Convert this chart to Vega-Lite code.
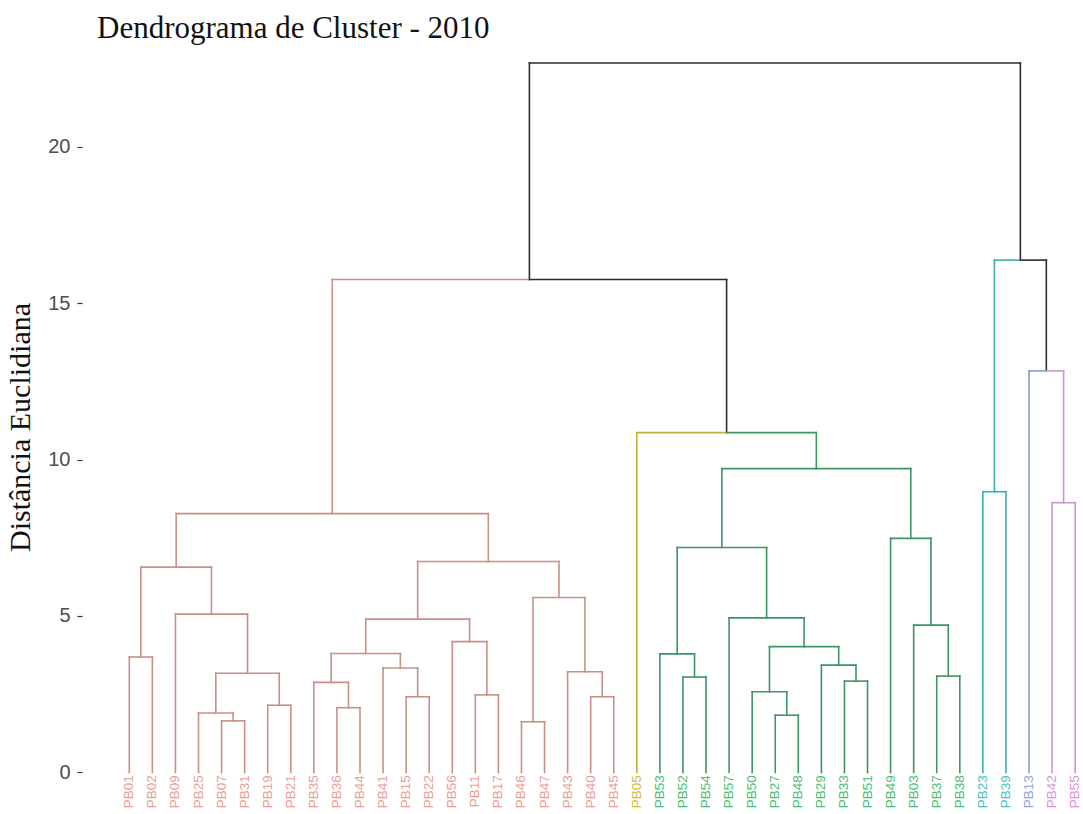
{
  "$schema": "https://vega.github.io/schema/vega-lite/v6.json",
  "width": 1001,
  "height": 768,
  "autosize": {"type": "none"},
  "padding": {"left": 82, "top": 46, "right": 0, "bottom": 0},
  "background": "white",
  "config": {
    "view": {"stroke": null},
    "axisY": {
      "grid": false,
      "domain": false,
      "ticks": true,
      "tickSize": 5,
      "tickWidth": 1.2,
      "tickColor": "#333333",
      "labelFont": "Liberation Sans",
      "labelFontSize": 20,
      "labelColor": "#4D4D4D",
      "labelPadding": 7,
      "titleFont": "Liberation Serif",
      "titleFontSize": 30,
      "titleFontWeight": "normal",
      "titleColor": "#111111",
      "titleAngle": 270,
      "titleAlign": "center",
      "titleBaseline": "alphabetic",
      "titleX": -53,
      "titleY": 381
    }
  },
  "title": {
    "text": "Dendrograma de Cluster - 2010",
    "anchor": "start",
    "frame": "group",
    "font": "Liberation Serif",
    "fontSize": 31,
    "fontWeight": "normal",
    "color": "#111111",
    "offset": 4,
    "dx": 15,
    "dy": 3
  },
  "datasets": {
    "leaves": [
      {"id": "PB01", "i": 0, "h": 3.69, "g": "1"},
      {"id": "PB02", "i": 1, "h": 3.69, "g": "1"},
      {"id": "PB09", "i": 2, "h": 5.06, "g": "1"},
      {"id": "PB25", "i": 3, "h": 1.90, "g": "1"},
      {"id": "PB07", "i": 4, "h": 1.65, "g": "1"},
      {"id": "PB31", "i": 5, "h": 1.65, "g": "1"},
      {"id": "PB19", "i": 6, "h": 2.15, "g": "1"},
      {"id": "PB21", "i": 7, "h": 2.15, "g": "1"},
      {"id": "PB35", "i": 8, "h": 2.88, "g": "1"},
      {"id": "PB36", "i": 9, "h": 2.07, "g": "1"},
      {"id": "PB44", "i": 10, "h": 2.07, "g": "1"},
      {"id": "PB41", "i": 11, "h": 3.34, "g": "1"},
      {"id": "PB15", "i": 12, "h": 2.42, "g": "1"},
      {"id": "PB22", "i": 13, "h": 2.42, "g": "1"},
      {"id": "PB56", "i": 14, "h": 4.18, "g": "1"},
      {"id": "PB11", "i": 15, "h": 2.48, "g": "1"},
      {"id": "PB17", "i": 16, "h": 2.48, "g": "1"},
      {"id": "PB46", "i": 17, "h": 1.62, "g": "1"},
      {"id": "PB47", "i": 18, "h": 1.62, "g": "1"},
      {"id": "PB43", "i": 19, "h": 3.22, "g": "1"},
      {"id": "PB40", "i": 20, "h": 2.42, "g": "1"},
      {"id": "PB45", "i": 21, "h": 2.42, "g": "1"},
      {"id": "PB05", "i": 22, "h": 10.86, "g": "2"},
      {"id": "PB53", "i": 23, "h": 3.79, "g": "3"},
      {"id": "PB52", "i": 24, "h": 3.05, "g": "3"},
      {"id": "PB54", "i": 25, "h": 3.05, "g": "3"},
      {"id": "PB57", "i": 26, "h": 4.94, "g": "3"},
      {"id": "PB50", "i": 27, "h": 2.58, "g": "3"},
      {"id": "PB27", "i": 28, "h": 1.83, "g": "3"},
      {"id": "PB48", "i": 29, "h": 1.83, "g": "3"},
      {"id": "PB29", "i": 30, "h": 3.43, "g": "3"},
      {"id": "PB33", "i": 31, "h": 2.92, "g": "3"},
      {"id": "PB51", "i": 32, "h": 2.92, "g": "3"},
      {"id": "PB49", "i": 33, "h": 7.48, "g": "3"},
      {"id": "PB03", "i": 34, "h": 4.71, "g": "3"},
      {"id": "PB37", "i": 35, "h": 3.08, "g": "3"},
      {"id": "PB38", "i": 36, "h": 3.08, "g": "3"},
      {"id": "PB23", "i": 37, "h": 8.97, "g": "4"},
      {"id": "PB39", "i": 38, "h": 8.97, "g": "4"},
      {"id": "PB13", "i": 39, "h": 12.83, "g": "5"},
      {"id": "PB42", "i": 40, "h": 8.62, "g": "6"},
      {"id": "PB55", "i": 41, "h": 8.62, "g": "6"}
    ],
    "branches": [
      {"x": 4.5, "x2": 4.5, "y": 1.65, "y2": 1.90, "g": "1"},
      {"x": 3.75, "x2": 3.75, "y": 1.90, "y2": 3.17, "g": "1"},
      {"x": 6.5, "x2": 6.5, "y": 2.15, "y2": 3.17, "g": "1"},
      {"x": 5.125, "x2": 5.125, "y": 3.17, "y2": 5.06, "g": "1"},
      {"x": 3.5625, "x2": 3.5625, "y": 5.06, "y2": 6.56, "g": "1"},
      {"x": 0.5, "x2": 0.5, "y": 3.69, "y2": 6.56, "g": "1"},
      {"x": 2.03125, "x2": 2.03125, "y": 6.56, "y2": 8.27, "g": "1"},
      {"x": 9.5, "x2": 9.5, "y": 2.07, "y2": 2.88, "g": "1"},
      {"x": 8.75, "x2": 8.75, "y": 2.88, "y2": 3.80, "g": "1"},
      {"x": 12.5, "x2": 12.5, "y": 2.42, "y2": 3.34, "g": "1"},
      {"x": 11.75, "x2": 11.75, "y": 3.34, "y2": 3.80, "g": "1"},
      {"x": 10.25, "x2": 10.25, "y": 3.80, "y2": 4.90, "g": "1"},
      {"x": 15.5, "x2": 15.5, "y": 2.48, "y2": 4.18, "g": "1"},
      {"x": 14.75, "x2": 14.75, "y": 4.18, "y2": 4.90, "g": "1"},
      {"x": 12.5, "x2": 12.5, "y": 4.90, "y2": 6.74, "g": "1"},
      {"x": 17.5, "x2": 17.5, "y": 1.62, "y2": 5.59, "g": "1"},
      {"x": 20.5, "x2": 20.5, "y": 2.42, "y2": 3.22, "g": "1"},
      {"x": 19.75, "x2": 19.75, "y": 3.22, "y2": 5.59, "g": "1"},
      {"x": 18.625, "x2": 18.625, "y": 5.59, "y2": 6.74, "g": "1"},
      {"x": 15.5625, "x2": 15.5625, "y": 6.74, "y2": 8.27, "g": "1"},
      {"x": 8.796875, "x2": 8.796875, "y": 8.27, "y2": 15.75, "g": "1"},
      {"x": 24.5, "x2": 24.5, "y": 3.05, "y2": 3.79, "g": "3"},
      {"x": 23.75, "x2": 23.75, "y": 3.79, "y2": 7.19, "g": "3"},
      {"x": 28.5, "x2": 28.5, "y": 1.83, "y2": 2.58, "g": "3"},
      {"x": 27.75, "x2": 27.75, "y": 2.58, "y2": 4.02, "g": "3"},
      {"x": 31.5, "x2": 31.5, "y": 2.92, "y2": 3.43, "g": "3"},
      {"x": 30.75, "x2": 30.75, "y": 3.43, "y2": 4.02, "g": "3"},
      {"x": 29.25, "x2": 29.25, "y": 4.02, "y2": 4.94, "g": "3"},
      {"x": 27.625, "x2": 27.625, "y": 4.94, "y2": 7.19, "g": "3"},
      {"x": 25.6875, "x2": 25.6875, "y": 7.19, "y2": 9.71, "g": "3"},
      {"x": 35.5, "x2": 35.5, "y": 3.08, "y2": 4.71, "g": "3"},
      {"x": 34.75, "x2": 34.75, "y": 4.71, "y2": 7.48, "g": "3"},
      {"x": 33.875, "x2": 33.875, "y": 7.48, "y2": 9.71, "g": "3"},
      {"x": 29.78125, "x2": 29.78125, "y": 9.71, "y2": 10.86, "g": "3"},
      {"x": 25.890625, "x2": 25.890625, "y": 10.86, "y2": 15.75, "g": "0"},
      {"x": 17.34375, "x2": 17.34375, "y": 15.75, "y2": 22.67, "g": "0"},
      {"x": 37.5, "x2": 37.5, "y": 8.97, "y2": 16.37, "g": "4"},
      {"x": 40.5, "x2": 40.5, "y": 8.62, "y2": 12.83, "g": "6"},
      {"x": 39.75, "x2": 39.75, "y": 12.83, "y2": 16.37, "g": "0"},
      {"x": 38.625, "x2": 38.625, "y": 16.37, "y2": 22.67, "g": "0"},

      {"x": 4, "x2": 5, "y": 1.65, "y2": 1.65, "g": "1"},
      {"x": 3, "x2": 4.5, "y": 1.90, "y2": 1.90, "g": "1"},
      {"x": 6, "x2": 7, "y": 2.15, "y2": 2.15, "g": "1"},
      {"x": 3.75, "x2": 6.5, "y": 3.17, "y2": 3.17, "g": "1"},
      {"x": 2, "x2": 5.125, "y": 5.06, "y2": 5.06, "g": "1"},
      {"x": 0, "x2": 1, "y": 3.69, "y2": 3.69, "g": "1"},
      {"x": 0.5, "x2": 3.5625, "y": 6.56, "y2": 6.56, "g": "1"},
      {"x": 9, "x2": 10, "y": 2.07, "y2": 2.07, "g": "1"},
      {"x": 8, "x2": 9.5, "y": 2.88, "y2": 2.88, "g": "1"},
      {"x": 12, "x2": 13, "y": 2.42, "y2": 2.42, "g": "1"},
      {"x": 11, "x2": 12.5, "y": 3.34, "y2": 3.34, "g": "1"},
      {"x": 8.75, "x2": 11.75, "y": 3.80, "y2": 3.80, "g": "1"},
      {"x": 15, "x2": 16, "y": 2.48, "y2": 2.48, "g": "1"},
      {"x": 14, "x2": 15.5, "y": 4.18, "y2": 4.18, "g": "1"},
      {"x": 10.25, "x2": 14.75, "y": 4.90, "y2": 4.90, "g": "1"},
      {"x": 17, "x2": 18, "y": 1.62, "y2": 1.62, "g": "1"},
      {"x": 20, "x2": 21, "y": 2.42, "y2": 2.42, "g": "1"},
      {"x": 19, "x2": 20.5, "y": 3.22, "y2": 3.22, "g": "1"},
      {"x": 17.5, "x2": 19.75, "y": 5.59, "y2": 5.59, "g": "1"},
      {"x": 12.5, "x2": 18.625, "y": 6.74, "y2": 6.74, "g": "1"},
      {"x": 2.03125, "x2": 15.5625, "y": 8.27, "y2": 8.27, "g": "1"},
      {"x": 24, "x2": 25, "y": 3.05, "y2": 3.05, "g": "3"},
      {"x": 23, "x2": 24.5, "y": 3.79, "y2": 3.79, "g": "3"},
      {"x": 28, "x2": 29, "y": 1.83, "y2": 1.83, "g": "3"},
      {"x": 27, "x2": 28.5, "y": 2.58, "y2": 2.58, "g": "3"},
      {"x": 31, "x2": 32, "y": 2.92, "y2": 2.92, "g": "3"},
      {"x": 30, "x2": 31.5, "y": 3.43, "y2": 3.43, "g": "3"},
      {"x": 27.75, "x2": 30.75, "y": 4.02, "y2": 4.02, "g": "3"},
      {"x": 26, "x2": 29.25, "y": 4.94, "y2": 4.94, "g": "3"},
      {"x": 23.75, "x2": 27.625, "y": 7.19, "y2": 7.19, "g": "3"},
      {"x": 35, "x2": 36, "y": 3.08, "y2": 3.08, "g": "3"},
      {"x": 34, "x2": 35.5, "y": 4.71, "y2": 4.71, "g": "3"},
      {"x": 33, "x2": 34.75, "y": 7.48, "y2": 7.48, "g": "3"},
      {"x": 25.6875, "x2": 33.875, "y": 9.71, "y2": 9.71, "g": "3"},
      {"x": 22, "x2": 25.890625, "y": 10.86, "y2": 10.86, "g": "2"},
      {"x": 25.890625, "x2": 29.78125, "y": 10.86, "y2": 10.86, "g": "3"},
      {"x": 8.796875, "x2": 17.34375, "y": 15.75, "y2": 15.75, "g": "1"},
      {"x": 17.34375, "x2": 25.890625, "y": 15.75, "y2": 15.75, "g": "0"},
      {"x": 37, "x2": 38, "y": 8.97, "y2": 8.97, "g": "4"},
      {"x": 40, "x2": 41, "y": 8.62, "y2": 8.62, "g": "6"},
      {"x": 39, "x2": 39.75, "y": 12.83, "y2": 12.83, "g": "5"},
      {"x": 39.75, "x2": 40.5, "y": 12.83, "y2": 12.83, "g": "6"},
      {"x": 37.5, "x2": 38.625, "y": 16.37, "y2": 16.37, "g": "4"},
      {"x": 38.625, "x2": 39.75, "y": 16.37, "y2": 16.37, "g": "0"},
      {"x": 17.34375, "x2": 38.625, "y": 22.67, "y2": 22.67, "g": "0"}
    ]
  },
  "resolve": {"scale": {"color": "independent"}},
  "layer": [
    {
      "data": {"name": "leaves"},
      "mark": {"type": "rule", "strokeWidth": 1.6, "strokeCap": "square"},
      "encoding": {
        "x": {"field": "i", "type": "quantitative", "scale": {"domain": [-2.05, 41.34], "nice": false, "zero": false}, "axis": null},
        "y": {"field": "h", "type": "quantitative", "scale": {"domain": [-1.3259, 23.2109], "nice": false, "zero": false}, "title": "Distância Euclidiana", "axis": {"values": [0, 5, 10, 15, 20]}},
        "y2": {"datum": 0},
        "color": {
          "field": "g",
          "type": "nominal",
          "scale": {"domain": ["0", "1", "2", "3", "4", "5", "6"], "range": ["#2B2B2B", "#C99088", "#C6AE3A", "#3D9563", "#3FAFB0", "#8A9CC4", "#C896D2"]},
          "legend": null
        }
      }
    },
    {
      "data": {"name": "branches"},
      "mark": {"type": "rule", "strokeWidth": 1.6, "strokeCap": "square"},
      "encoding": {
        "x": {"field": "x", "type": "quantitative", "scale": {"domain": [-2.05, 41.34], "nice": false, "zero": false}, "axis": null},
        "x2": {"field": "x2"},
        "y": {"field": "y", "type": "quantitative", "scale": {"domain": [-1.3259, 23.2109], "nice": false, "zero": false}, "title": "Distância Euclidiana", "axis": {"values": [0, 5, 10, 15, 20]}},
        "y2": {"field": "y2"},
        "color": {
          "field": "g",
          "type": "nominal",
          "scale": {"domain": ["0", "1", "2", "3", "4", "5", "6"], "range": ["#2B2B2B", "#C99088", "#C6AE3A", "#3D9563", "#3FAFB0", "#8A9CC4", "#C896D2"]},
          "legend": null
        }
      }
    },
    {
      "data": {"name": "leaves"},
      "mark": {"type": "text", "angle": 270, "align": "right", "baseline": "middle", "font": "Liberation Sans", "fontSize": 13.5},
      "encoding": {
        "x": {"field": "i", "type": "quantitative", "scale": {"domain": [-2.05, 41.34], "nice": false, "zero": false}, "axis": null},
        "y": {"datum": -0.09, "type": "quantitative", "scale": {"domain": [-1.3259, 23.2109], "nice": false, "zero": false}, "title": "Distância Euclidiana", "axis": {"values": [0, 5, 10, 15, 20]}},
        "text": {"field": "id"},
        "color": {
          "field": "g",
          "type": "nominal",
          "scale": {"domain": ["0", "1", "2", "3", "4", "5", "6"], "range": ["#2B2B2B", "#EC9C92", "#D2BC3C", "#45BF72", "#45C3C8", "#8EA6D8", "#E58EE0"]},
          "legend": null
        }
      }
    }
  ]
}
